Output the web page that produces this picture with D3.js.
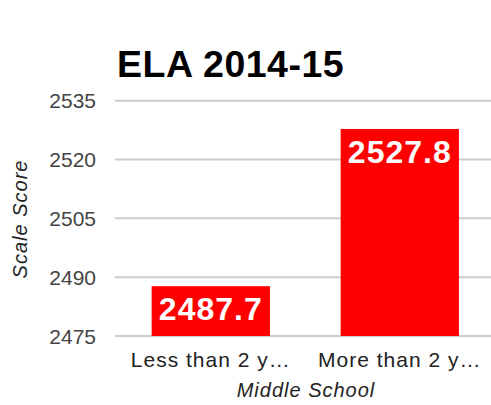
<!DOCTYPE html>
<html><head><meta charset="utf-8">
<script src="https://cdn.jsdelivr.net/npm/d3@7/dist/d3.min.js"></script>
<style>body{margin:0;background:#fff}svg{display:block}</style>
</head><body>
<svg id="c" width="491" height="405"></svg>
<script>
const categories = ["Less than 2 y…", "More than 2 y…"];
const values = [2487.7, 2527.8];
const yTicks = [2475, 2490, 2505, 2520, 2535];
const title = "ELA 2014-15";
const xTitle = "Middle School";
const yTitle = "Scale  Score";

const svg = d3.select("#c");
const font = "'Liberation Sans', Arial, sans-serif";
const x = d3.scaleBand().domain(categories).range([115, 495.6]).paddingInner(0.374).paddingOuter(0.194);
const y = d3.scaleLinear().domain([2475, 2535]).range([336, 100.7]);

svg.append("text").attr("x", 117).attr("y", 76.5).attr("font-family", font)
  .attr("font-weight", "bold").attr("font-size", 37.5).attr("letter-spacing", 0.5).attr("fill", "#000").text(title);

const g = svg.append("g");
g.selectAll("line.grid").data(yTicks).join("line").attr("class", "grid")
  .attr("x1", 115).attr("x2", 491).attr("y1", d => y(d)).attr("y2", d => y(d))
  .attr("stroke", "#cccccc").attr("stroke-width", 2);

g.selectAll("text.tick").data(yTicks).join("text").attr("class", "tick")
  .attr("x", 96).attr("y", d => y(d) + 7.5).attr("text-anchor", "end")
  .attr("font-family", font).attr("font-size", 21).attr("fill", "#444").text(d => d);

g.selectAll("rect.bar").data(values).join("rect").attr("class", "bar")
  .attr("x", (d, i) => x(categories[i])).attr("width", x.bandwidth())
  .attr("y", d => y(d)).attr("height", d => y(2475) - y(d)).attr("fill", "#ff0000");

g.selectAll("text.val").data(values).join("text").attr("class", "val")
  .attr("x", (d, i) => x(categories[i]) + x.bandwidth() / 2).attr("y", d => y(d) + 34)
  .attr("text-anchor", "middle").attr("font-family", font).attr("font-weight", "bold")
  .attr("font-size", 32).attr("letter-spacing", 1).attr("fill", "#fff").text(d => d.toFixed(1));

g.selectAll("text.cat").data(categories).join("text").attr("class", "cat")
  .attr("x", d => x(d) + x.bandwidth() / 2).attr("y", 367)
  .attr("text-anchor", "middle").attr("font-family", font).attr("font-size", 21)
  .attr("letter-spacing", 1).attr("fill", "#222").text(d => d);

svg.append("text").attr("x", 306).attr("y", 397).attr("text-anchor", "middle")
  .attr("font-family", font).attr("font-style", "italic").attr("font-size", 20)
  .attr("letter-spacing", 1).attr("fill", "#222").text(xTitle);

svg.append("text").attr("transform", "translate(27,219) rotate(-90)").attr("text-anchor", "middle")
  .attr("font-family", font).attr("font-style", "italic").attr("font-size", 20)
  .attr("letter-spacing", 1).attr("fill", "#222").text(yTitle);
</script>
</body></html>
